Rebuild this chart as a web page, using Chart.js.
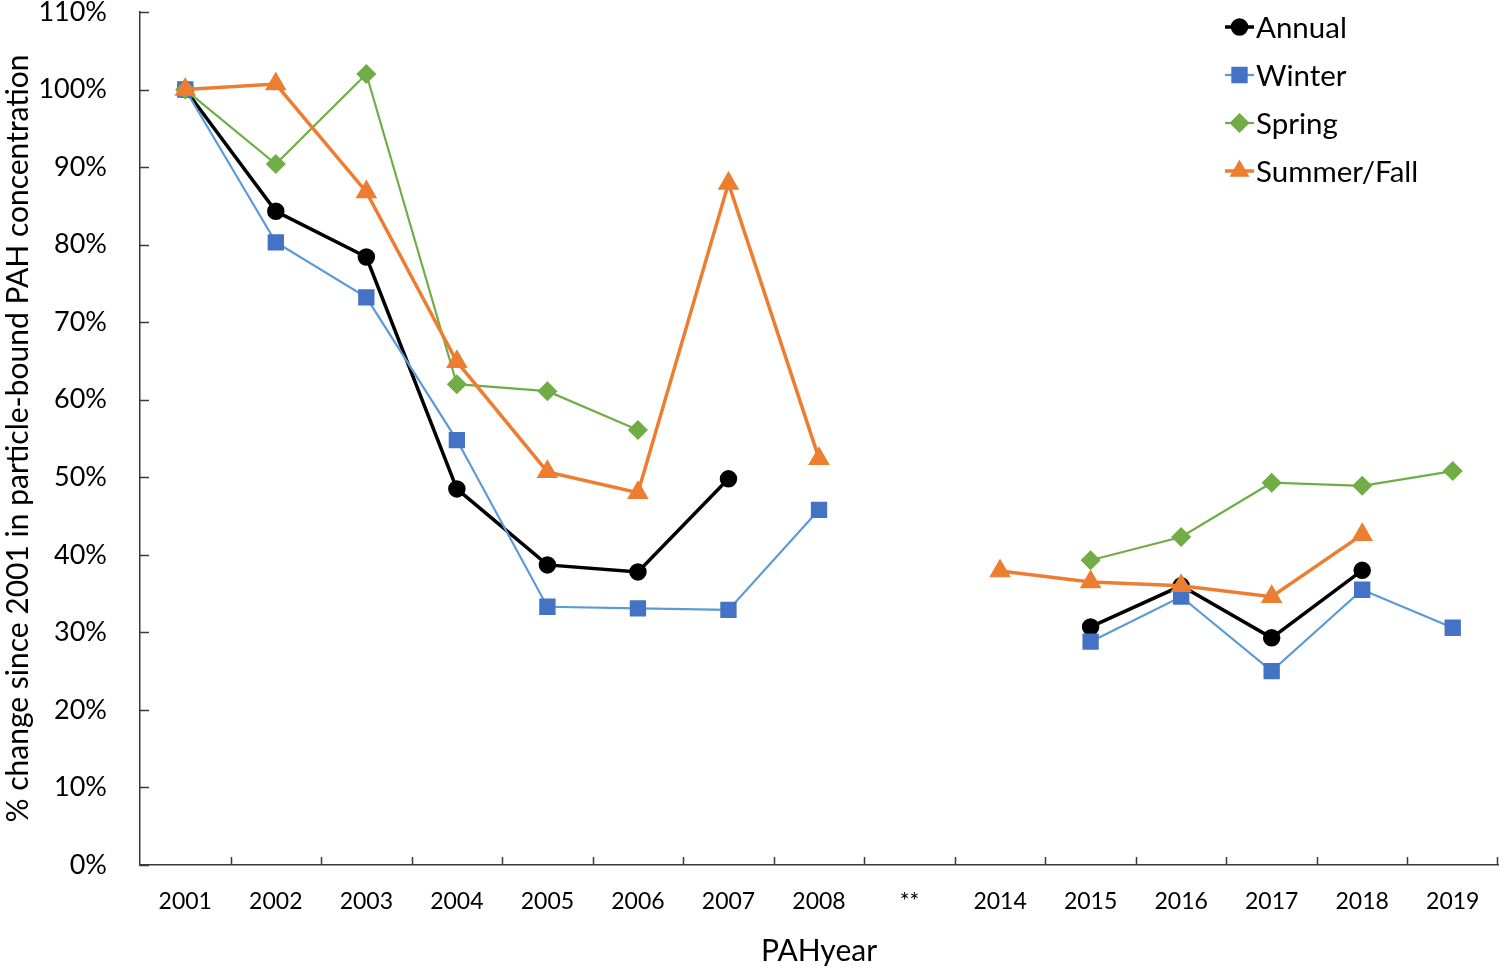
<!DOCTYPE html>
<html>
<head>
<meta charset="utf-8">
<script src="https://cdn.jsdelivr.net/npm/chart.js@4/dist/chart.umd.min.js"></script>
<style>
  html, body { margin: 0; padding: 0; background: #fff; overflow: hidden; }
  #wrap { width: 1500px; height: 970px; }
  canvas { display: block; }
</style>
</head>
<body>
<div id="wrap"><canvas id="myChart" width="1500" height="970"></canvas></div>
<script>
var anos = ['2001', '2002', '2003', '2004', '2005', '2006', '2007', '2008', '**', '2014', '2015', '2016', '2017', '2018', '2019'];

var annual = [100, 84.3, 78.4, 48.5, 38.7, 37.8, 49.8, null, null, null, 30.7, 36.0, 29.3, 38.0, null];
var winter = [100, 80.3, 73.2, 54.8, 33.3, 33.1, 32.9, 45.8, null, null, 28.8, 34.6, 25.0, 35.5, 30.6];
var spring = [100, 90.4, 102.0, 62.0, 61.1, 56.1, null, null, null, null, 39.3, 42.3, 49.3, 48.9, 50.8];
var summerFall = [100, 100.7, 86.8, 64.9, 50.7, 48.0, 87.9, 52.4, null, 37.9, 36.5, 36.0, 34.6, 42.6, null];

var yTicks = [0, 10, 20, 30, 40, 50, 60, 70, 80, 90, 100, 110];

var fonte = 'Lato, "Open Sans", sans-serif';
var corEixo = '#3a3a3a';

// marcas de escala para dentro e legenda com marcador
var extras = {
    id: 'extras',
    afterDraw: function (chart) {
        var ctx = chart.ctx;
        var x = chart.scales.x;
        var y = chart.scales.y;
        ctx.save();
        ctx.strokeStyle = corEixo;
        ctx.lineWidth = 1.5;
        ctx.beginPath();
        y.ticks.forEach(function (t) {
            var py = Math.round(y.getPixelForValue(t.value)) + 0.5;
            ctx.moveTo(y.right, py);
            ctx.lineTo(y.right + 9, py);
        });
        for (var i = 1; i <= anos.length; i++) {
            var px;
            if (i === anos.length) px = Math.round(x.right) - 1;
            else px = Math.round((x.getPixelForValue(i - 1) + x.getPixelForValue(i)) / 2);
            ctx.moveTo(px + 0.5, x.top);
            ctx.lineTo(px + 0.5, x.top - 8);
        }
        ctx.stroke();

        // legenda
        var lx = 1225, ly = 27, passo = 48;
        chart.data.datasets.forEach(function (ds, k) {
            var cy = ly + k * passo;
            ctx.strokeStyle = ds.borderColor;
            ctx.lineWidth = ds.borderWidth;
            ctx.beginPath();
            ctx.moveTo(lx, cy);
            ctx.lineTo(lx + 29, cy);
            ctx.stroke();
            ctx.fillStyle = ds.pointBackgroundColor;
            ctx.strokeStyle = ds.pointBorderColor;
            Chart.helpers.drawPoint(ctx, {
                pointStyle: ds.pointStyle,
                radius: ds.legendRadius,
                rotation: 0,
                borderWidth: 1
            }, lx + 14.5, cy);
            ctx.fillStyle = '#000';
            ctx.font = '29.5px ' + fonte;
            ctx.textBaseline = 'middle';
            ctx.textAlign = 'left';
            ctx.fillText(ds.label, lx + 31, cy + 1);
        });
        ctx.restore();
    }
};

const ctx = document.getElementById('myChart');

var chart = new Chart(ctx, {
    type: 'line',
    data: {
        labels: anos,
        datasets: [{
            label: 'Annual',
            data: annual,
            borderColor: '#000000',
            backgroundColor: '#000000',
            pointBackgroundColor: '#000000',
            pointBorderColor: '#000000',
            borderWidth: 3.5,
            pointStyle: 'circle',
            pointRadius: 7,
            legendRadius: 7,
            order: 4
        }, {
            label: 'Winter',
            data: winter,
            borderColor: '#5B9BD5',
            backgroundColor: '#4472C4',
            pointBackgroundColor: '#4472C4',
            pointBorderColor: '#4472C4',
            borderWidth: 2.2,
            pointStyle: 'rect',
            pointRadius: 10,
            legendRadius: 10,
            order: 3
        }, {
            label: 'Spring',
            data: spring,
            borderColor: '#70AD47',
            backgroundColor: '#70AD47',
            pointBackgroundColor: '#70AD47',
            pointBorderColor: '#70AD47',
            borderWidth: 2.2,
            pointStyle: 'rectRot',
            pointRadius: 8.5,
            legendRadius: 8.5,
            order: 2
        }, {
            label: 'Summer/Fall',
            data: summerFall,
            borderColor: '#ED7D31',
            backgroundColor: '#ED7D31',
            pointBackgroundColor: '#ED7D31',
            pointBorderColor: '#ED7D31',
            borderWidth: 3.5,
            pointStyle: 'triangle',
            pointRadius: 9,
            legendRadius: 8,
            order: 1
        }]
    },
    options: {
        responsive: false,
        animation: false,
        events: [],
        spanGaps: false,
        elements: {
            line: { tension: 0 },
            point: { borderWidth: 1, hoverRadius: 0 }
        },
        layout: { autoPadding: false, padding: { top: 12, right: 2, left: 0, bottom: 0 } },
        plugins: {
            legend: { display: false },
            tooltip: { enabled: false }
        },
        scales: {
            x: {
                type: 'category',
                offset: true,
                grid: { display: false, offset: true },
                border: { display: true, color: corEixo, width: 1.5 },
                ticks: {
                    color: '#000',
                    font: { family: fonte, size: 23 },
                    padding: 15,
                    maxRotation: 0,
                    autoSkip: false
                },
                title: {
                    display: true,
                    text: 'PAHyear',
                    color: '#000',
                    font: { family: fonte, size: 30 },
                    padding: { top: 0, bottom: 1 }
                },
                afterFit: function (scale) {
                    scale.height = 105;
                    scale.paddingLeft = 0;
                    scale.paddingRight = 0;
                }
            },
            y: {
                min: 0,
                max: 110,
                afterBuildTicks: function (scale) {
                    scale.ticks = yTicks.map(function (v) { return { value: v }; });
                },
                grid: { display: false },
                border: { display: true, color: corEixo, width: 1.5 },
                ticks: {
                    color: '#000',
                    font: { family: fonte, size: 27 },
                    padding: 25,
                    callback: function (v) { return v + '%'; }
                },
                title: {
                    display: true,
                    text: '% change since 2001 in particle-bound PAH concentration',
                    color: '#000',
                    font: { family: fonte, size: 30 },
                    padding: { top: 0, bottom: 0 }
                },
                afterFit: function (scale) {
                    scale.width = 140;
                    scale.paddingTop = 0;
                    scale.paddingBottom = 0;
                }
            }
        }
    },
    plugins: [extras]
});
</script>
</body>
</html>
